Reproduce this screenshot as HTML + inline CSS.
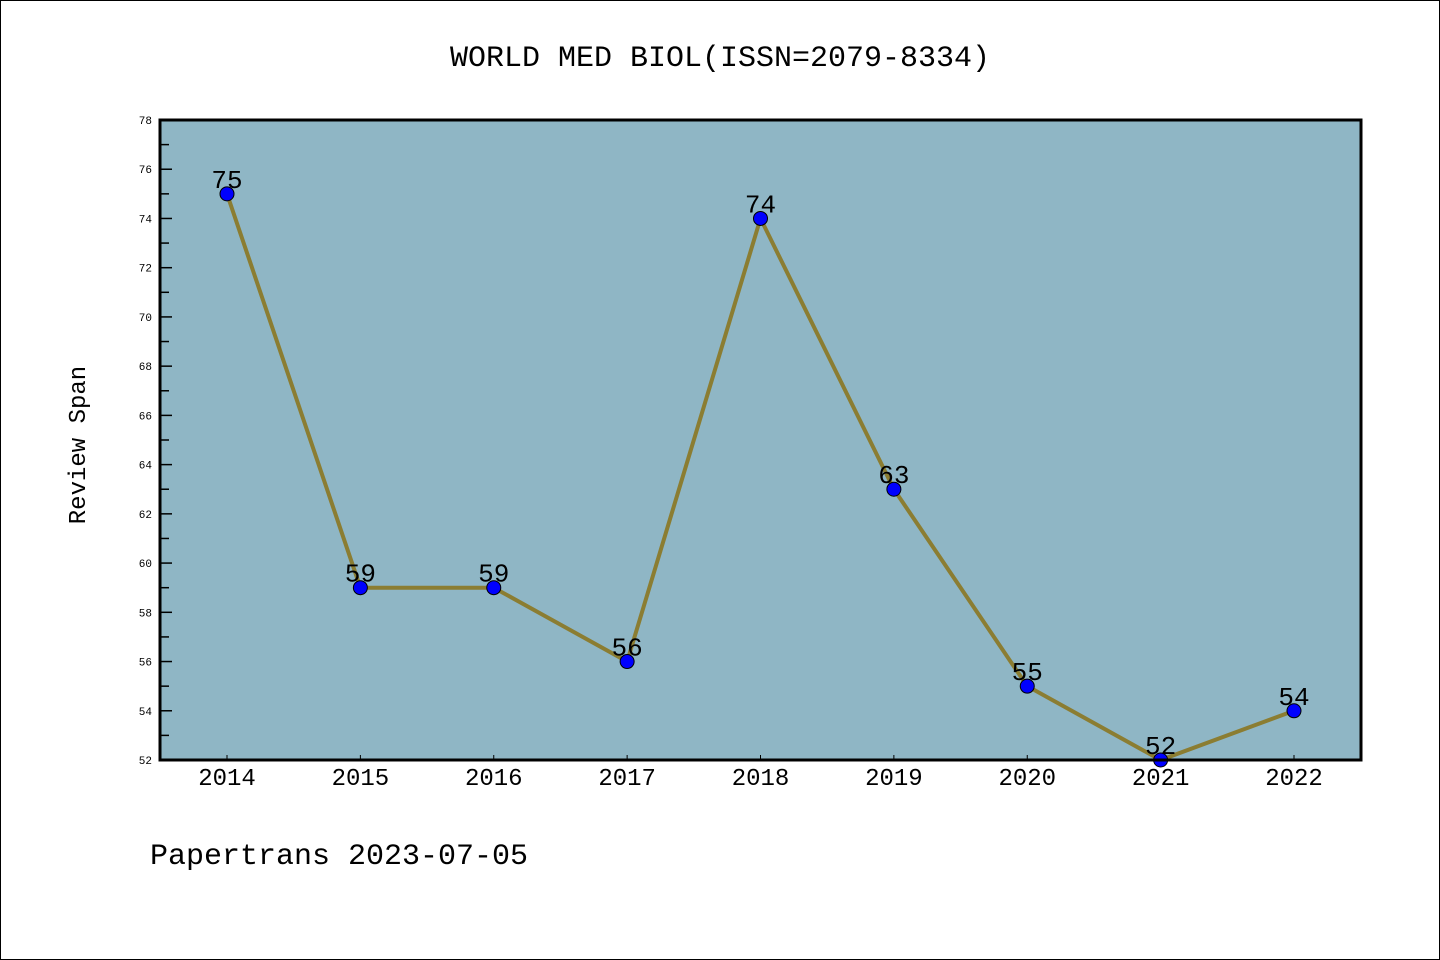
<!DOCTYPE html>
<html><head><meta charset="utf-8"><style>
html,body{margin:0;padding:0;background:#fff}
#wrap{position:relative;width:1440px;height:960px;box-sizing:border-box;border:1px solid #000;background:#fff}
svg text{font-family:"Liberation Mono","DejaVu Sans Mono",monospace}
</style></head><body>
<div id="wrap">
<svg id="chart" width="1440" height="960" style="position:absolute;left:-1px;top:-1px">
<text x="720" y="66" text-anchor="middle" font-size="30">WORLD MED BIOL(ISSN=2079-8334)</text>
<rect x="160" y="120" width="1201" height="640" fill="#8fb6c5"/>
<g id="yaxis"></g>
<g id="xaxis"></g>
<g id="series"></g>
<rect x="160" y="120" width="1201" height="640" fill="none" stroke="#000" stroke-width="3"/>
<text transform="translate(85,445) rotate(-90)" text-anchor="middle" font-size="24">Review Span</text>
<text x="150" y="864" font-size="30">Papertrans 2023-07-05</text>
</svg>
</div>
<script>
const categories = ["2014","2015","2016","2017","2018","2019","2020","2021","2022"];
const values = [75,59,59,56,74,63,55,52,54];
const yTicks = [52,54,56,58,60,62,64,66,68,70,72,74,76,78];
(function(){
const NS="http://www.w3.org/2000/svg";
const yMin=52,yMax=78,plotTop=120,plotBottom=760;
function y(v){return plotBottom-(v-yMin)/(yMax-yMin)*(plotBottom-plotTop);}
function x(i){return 227+i*(1294-227)/(categories.length-1);}
function mk(t,a,p){const e=document.createElementNS(NS,t);for(const k in a)e.setAttribute(k,a[k]);p.appendChild(e);return e;}
const ya=document.getElementById('yaxis'),xa=document.getElementById('xaxis'),s=document.getElementById('series');
yTicks.forEach((v,i)=>{
  const l=mk('line',{x1:160,x2:172,y1:y(v),y2:y(v),stroke:'#000','stroke-width':1.5},ya);
  
  
  const t=mk('text',{x:152,y:y(v)+4,'text-anchor':'end','font-size':11},ya);
  t.textContent=v;
  
  
  if(i<yTicks.length-1){
    const m=mk('line',{x1:160,x2:169,y1:y(v+1),y2:y(v+1),stroke:'#000','stroke-width':1.5},ya);
    
    
  }
});
categories.forEach((c,i)=>{
  const l=mk('line',{x1:x(i),x2:x(i),y1:plotBottom,y2:plotBottom-5,stroke:'#000','stroke-width':1},xa);
  
  
  const t=mk('text',{x:x(i),y:785,'text-anchor':'middle','font-size':24,'font-family':'Liberation Sans, sans-serif'},xa);
  t.textContent=c;
  
  
});
const pl=mk('polyline',{points:values.map((v,i)=>x(i)+','+y(v)).join(' '),fill:'none',stroke:'#8b7d32','stroke-width':4},s);


values.forEach((v,i)=>{
  const c=mk('circle',{cx:x(i),cy:y(v),r:7,fill:'#0000ff',stroke:'#000','stroke-width':1},s);
  
  
  const t=mk('text',{x:x(i),y:y(v)-6,'text-anchor':'middle','font-size':26,'font-family':'Liberation Sans, sans-serif'},s);
  t.textContent=v;
  
  
});
})();
</script>
</body></html>
